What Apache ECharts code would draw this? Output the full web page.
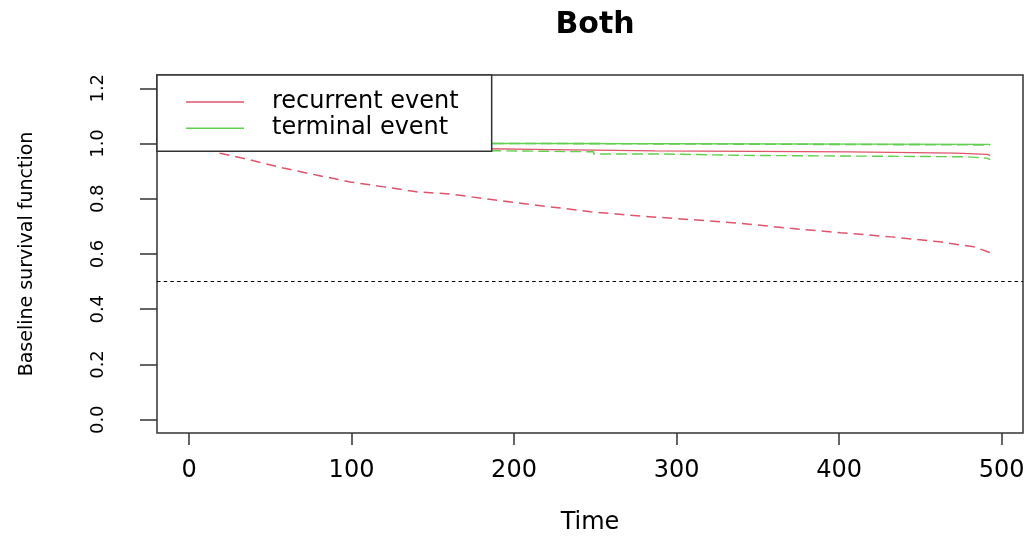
<!DOCTYPE html>
<html style="height: 100%">
<head>
	<meta charset="utf-8">
</head>
<body style="height: 100%; margin: 0; background: #fff">
	<div id="container" style="width: 1028px; height: 537px;"></div>
	<script type="text/javascript" src="https://cdn.jsdelivr.net/npm/echarts@6/dist/echarts.min.js"></script>
	<script type="text/javascript">
		// tick labels
		let xTicks = [0, 100, 200, 300, 400, 500];
		let yTicks = [0, 0.2, 0.4, 0.6, 0.8, 1.0, 1.2];

		// recurrent event: estimate (step) and lower bound
		let recurrentEst = [[0, 1], [15, 0.995], [40, 0.99], [90, 0.985], [140, 0.982], [175, 0.979], [212, 0.973],
			[287, 0.970], [406, 0.965], [472, 0.961], [491, 0.957], [493, 0.957]];
		let recurrentLow = [[0, 1], [19, 0.965], [38, 0.94], [58, 0.911], [79, 0.885], [99, 0.861], [120, 0.843],
			[140, 0.825], [161, 0.817], [181, 0.801], [202, 0.785], [222, 0.771], [247, 0.753], [278, 0.737],
			[308, 0.725], [339, 0.711], [370, 0.693], [401, 0.677], [432, 0.662], [462, 0.644], [483, 0.626],
			[493, 0.605]];

		// terminal event: estimate and bounds
		let terminalEst = [[0, 1], [222, 0.997], [493, 0.997]];
		let terminalUp = [[0, 1], [222, 0.995], [493, 0.995]];
		let terminalLow = [[0, 1], [8, 0.99], [30, 0.985], [70, 0.98], [120, 0.975], [170, 0.970], [249, 0.962],
			[292, 0.957], [342, 0.952], [478, 0.947], [491, 0.942], [493, 0.942]];

		let refLine = 0.5;

		let red = '#DF536B';
		let green = '#61D04F';
		let hFont = 'DejaVu Sans';

		let dom = document.getElementById("container");
		let myChart = echarts.init(dom);

		let option = {
			animation: false,
			title: {
				text: 'Both',
				left: 590,
				top: 5,
				textAlign: 'center',
				textStyle: { fontFamily: hFont, fontSize: 30, fontWeight: 'bold', color: '#000' }
			},
			legend: {
				data: ['recurrent event', 'terminal event'],
				orient: 'vertical',
				left: 157,
				top: 75,
				padding: [15, 33, 11, 29],
				icon: 'rect',
				itemWidth: 58,
				itemHeight: 1.5,
				itemGap: 2.2,
				backgroundColor: '#fff',
				borderColor: '#333',
				borderWidth: 1.5,
				borderRadius: 0,
				textStyle: { fontFamily: hFont, fontSize: 24, color: '#000', padding: [0, 0, 0, 23] }
			},
			grid: {
				left: 157,
				right: 5,
				top: 75,
				bottom: 104,
				outerBoundsMode: 'none',
				containLabel: false,
				show: true,
				borderColor: '#333',
				borderWidth: 1.5,
				backgroundColor: 'transparent'
			},
			xAxis: {
				type: 'value',
				min: -19.7,
				max: 513.2,
				name: 'Time',
				nameLocation: 'middle',
				nameGap: 78,
				nameTextStyle: { fontFamily: hFont, fontSize: 24, color: '#000' },
				axisLine: { show: false, onZero: false },
				splitLine: { show: false },
				axisTick: { show: true, length: 12, customValues: xTicks, lineStyle: { color: '#333', width: 1.5 } },
				axisLabel: { customValues: xTicks, margin: 26, fontFamily: hFont, fontSize: 24, color: '#000' }
			},
			yAxis: {
				type: 'value',
				min: -0.048,
				max: 1.248,
				name: 'Baseline survival function',
				nameLocation: 'middle',
				nameGap: 120,
				nameRotate: 90,
				nameTextStyle: { fontFamily: hFont, fontSize: 19, color: '#000' },
				axisLine: { show: false, onZero: false },
				splitLine: { show: false },
				axisTick: { show: true, length: 17, customValues: yTicks, lineStyle: { color: '#333', width: 1.5 } },
				axisLabel: {
					customValues: yTicks, rotate: 90, margin: 50, fontFamily: hFont, fontSize: 18, color: '#000',
					formatter: v => v.toFixed(1)
				}
			},
			series: [
				{
					name: 'recurrent event', type: 'line', step: 'end', symbol: 'none', data: recurrentEst,
					lineStyle: { color: red, width: 1.3 }, itemStyle: { color: red }, z: 3
				},
				{
					name: 'recurrent low', type: 'line', symbol: 'none', data: recurrentLow,
					lineStyle: { color: red, width: 1.5, type: [10, 6] }, itemStyle: { color: red }, z: 3
				},
				{
					name: 'terminal low', type: 'line', step: 'end', symbol: 'none', data: terminalLow,
					lineStyle: { color: green, width: 1.4, type: [11, 5] }, itemStyle: { color: green }, z: 2
				},
				{
					name: 'terminal up', type: 'line', step: 'end', symbol: 'none', data: terminalUp,
					lineStyle: { color: green, width: 1.6, type: [11, 5] }, itemStyle: { color: green }, z: 2
				},
				{
					name: 'terminal event', type: 'line', step: 'end', symbol: 'none', data: terminalEst,
					lineStyle: { color: green, width: 1.3 }, itemStyle: { color: green }, z: 2,
					markLine: {
						silent: true,
						symbol: 'none',
						label: { show: false },
						lineStyle: { color: '#000', width: 1, type: [3.5, 3.2] },
						data: [{ yAxis: refLine }]
					}
				}
			]
		};

		myChart.setOption(option);
	</script>
</body>
</html>
